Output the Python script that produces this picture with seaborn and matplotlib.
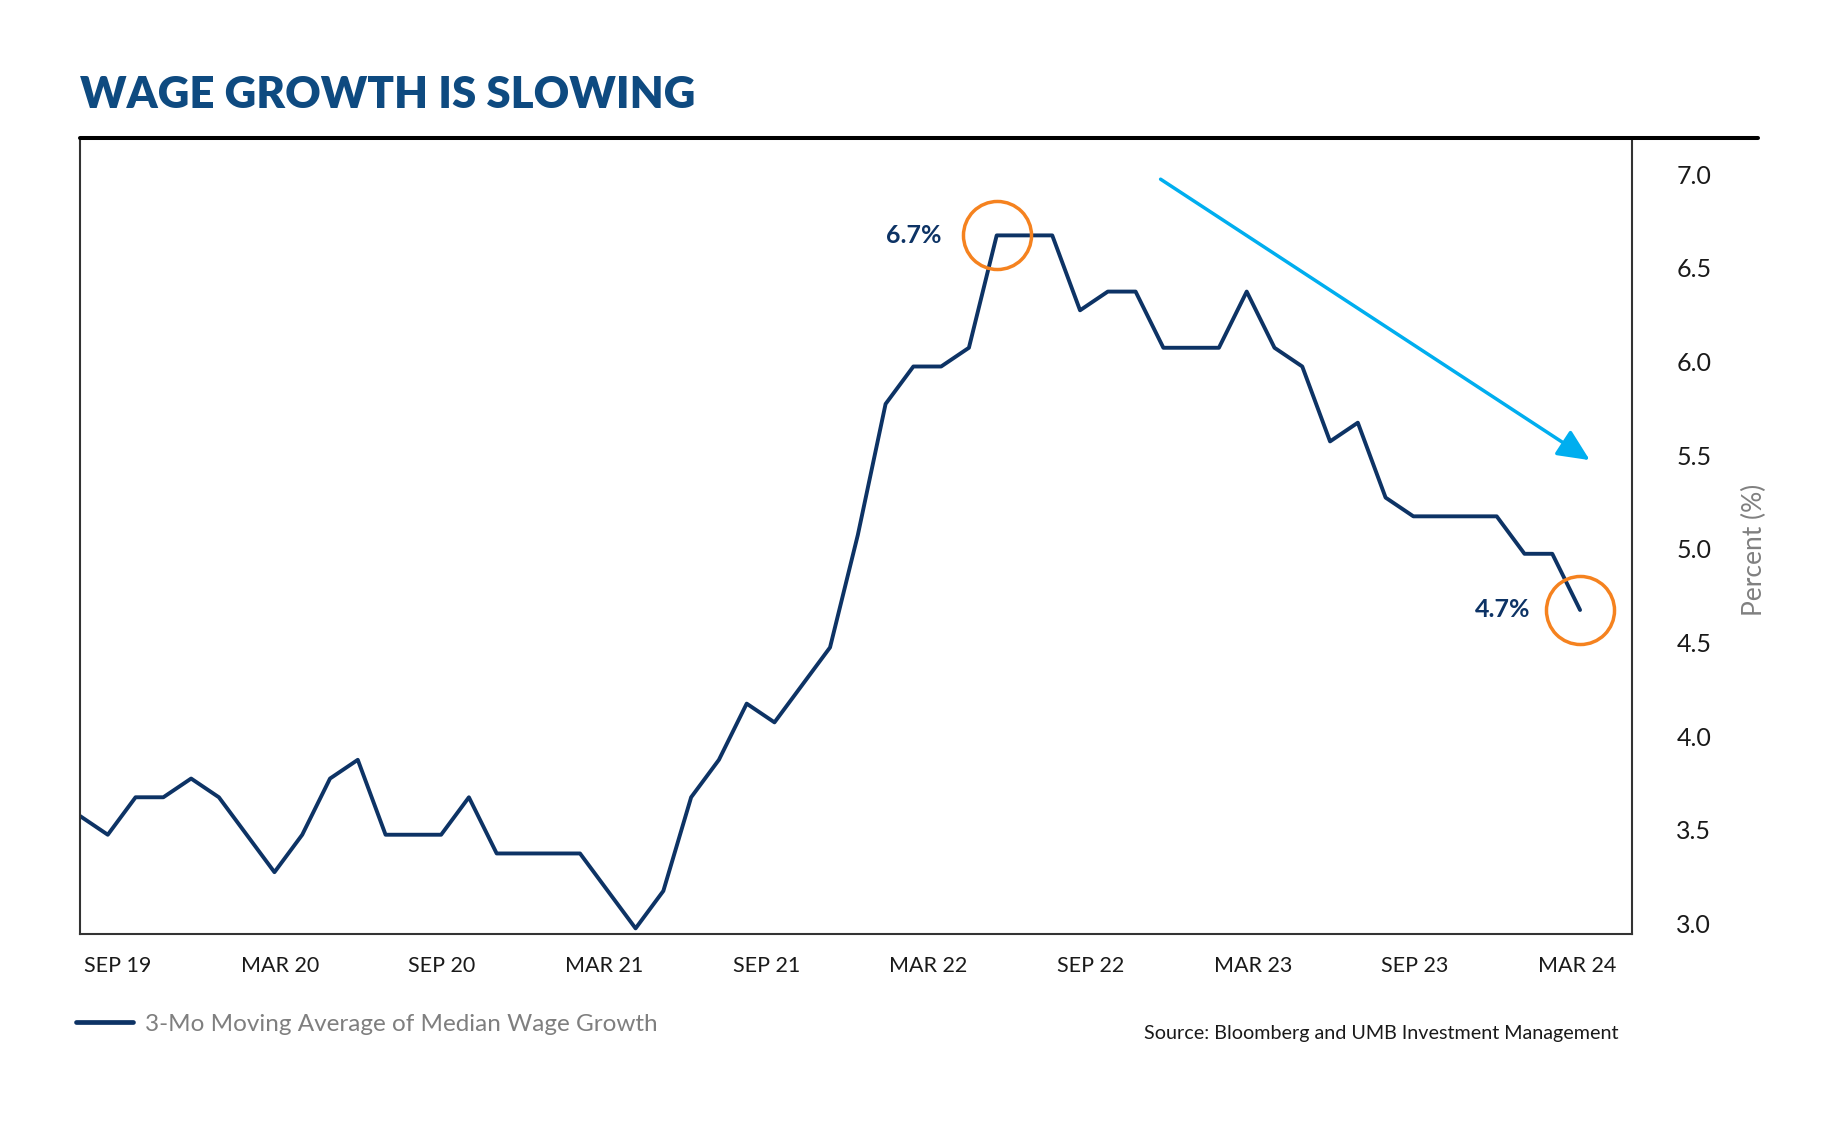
import numpy as np
import pandas as pd
import matplotlib
matplotlib.use("Agg")
import matplotlib.pyplot as plt
from matplotlib.lines import Line2D
from matplotlib.transforms import ScaledTranslation
import seaborn as sns

# ---------------- data ----------------
wage_growth = [3.6, 3.5, 3.7, 3.7, 3.8, 3.7, 3.5, 3.3, 3.5, 3.8,
               3.9, 3.5, 3.5, 3.5, 3.7, 3.4, 3.4, 3.4, 3.4, 3.2,
               3.0, 3.2, 3.7, 3.9, 4.2, 4.1, 4.3, 4.5, 5.1, 5.8,
               6.0, 6.0, 6.1, 6.7, 6.7, 6.7, 6.3, 6.4, 6.4, 6.1,
               6.1, 6.1, 6.4, 6.1, 6.0, 5.6, 5.7, 5.3, 5.2, 5.2,
               5.2, 5.2, 5.0, 5.0, 4.7]
month_index = list(range(len(wage_growth)))
x_tick_labels = ["SEP 19", "MAR 20", "SEP 20", "MAR 21", "SEP 21",
                 "MAR 22", "SEP 22", "MAR 23", "SEP 23", "MAR 24"]
y_ticks = [3.0, 3.5, 4.0, 4.5, 5.0, 5.5, 6.0, 6.5, 7.0]
series_label = "3-Mo Moving Average of Median Wage Growth"
peak_label = "6.7%"
last_label = "4.7%"
peak_idx = 33
last_idx = len(wage_growth) - 1

df = pd.DataFrame({"month": month_index, "value": wage_growth})

# ---------------- style ----------------
sns.set_style("white")
plt.rcParams["font.family"] = ["Lato", "DejaVu Sans"]

NAVY = "#0D3365"
TITLE_BLUE = "#0E4A80"
ORANGE = "#F5821F"
CYAN = "#00AEEF"

W, H = 1838, 1125
fig = plt.figure(figsize=(W / 100, H / 100), dpi=100)
ax = fig.add_axes([80 / W, 1 - 934 / H, (1632 - 80) / W, (934 - 138) / H])

sns.lineplot(data=df, x="month", y="value", ax=ax, color=NAVY,
             linewidth=2.8, label=series_label)

ax.set_xlim(0, 55.87)
ax.set_ylim(2.97, 7.22)

# ticks
ax.set_xticks(np.linspace(1.35, 53.9, len(x_tick_labels)))
ax.set_xticklabels(x_tick_labels, fontsize=15.5, color="#1a1a1a")
ax.yaxis.tick_right()
ax.set_yticks(y_ticks)
ax.set_yticklabels([f"{v:.1f}" for v in y_ticks], fontsize=18, color="#1a1a1a")
ax.tick_params(axis="x", length=0, pad=16)
ax.tick_params(axis="y", length=0, pad=32)
ax.set_xlabel("")
ax.set_ylabel("")
for lbl in ax.get_yticklabels():
    lbl.set_transform(lbl.get_transform() + ScaledTranslation(0, 5 / 100, fig.dpi_scale_trans))

# spines
ax.spines["top"].set_visible(False)
for s in ["left", "right", "bottom"]:
    ax.spines[s].set_color("#333333")
    ax.spines[s].set_linewidth(1.5)

# thick top rule
fig.add_artist(Line2D([80 / W, 1758 / W], [1 - 138 / H, 1 - 138 / H],
                      color="black", linewidth=2.9, transform=fig.transFigure))

# circles and labels
for idx, lab, off in [(peak_idx, peak_label, -40), (last_idx, last_label, -36)]:
    ax.plot([idx], [wage_growth[idx]], marker="o", markersize=49,
            markerfacecolor="none", markeredgecolor=ORANGE, markeredgewidth=2.5,
            linestyle="none")
    ax.annotate(lab, xy=(idx, wage_growth[idx]), xytext=(off, 0),
                textcoords="offset points", ha="right", va="center",
                fontsize=18, fontweight="bold", color=NAVY)

# trend arrow
ax.annotate("", xy=(54.35, 5.5), xytext=(38.9, 7.0),
            arrowprops=dict(arrowstyle="-|>,head_length=0.65,head_width=0.3",
                            mutation_scale=30, color=CYAN, lw=2.5,
                            shrinkA=0, shrinkB=0))

# title
fig.text(80 / W, 1 - 108 / H, "WAGE GROWTH IS SLOWING", fontsize=31.5,
         fontweight="heavy", color=TITLE_BLUE, ha="left", va="baseline")

# y label
fig.text(1754 / W, 1 - 550 / H, "Percent (%)", rotation=90, fontsize=19,
         color="#808080", ha="center", va="center")

# legend
leg = ax.legend(loc="center left", bbox_to_anchor=(76 / W, 1 - 1024 / H),
                bbox_transform=fig.transFigure, frameon=False, fontsize=17.5,
                handlelength=2.35, handletextpad=0.5, borderpad=0, borderaxespad=0)
for t in leg.get_texts():
    t.set_color("#7F7F7F")
for l in leg.get_lines():
    l.set_linewidth(3.4)

# source
fig.text(1618 / W, 1 - 1033 / H, "Source: Bloomberg and UMB Investment Management",
         fontsize=14.2, color="#1a1a1a", ha="right", va="center")

fig.savefig("out.png", dpi=100, facecolor="white")
